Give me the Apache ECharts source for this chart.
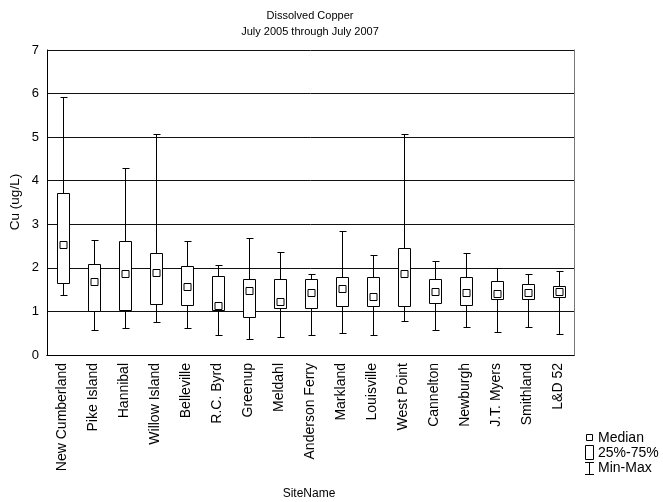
<!DOCTYPE html>
<html>
<head>
<meta charset="utf-8">
<script src="https://cdn.jsdelivr.net/npm/echarts@6/dist/echarts.min.js"></script>
<style>
html,body{margin:0;padding:0;background:#fff;}
#c{width:663px;height:502px;}
</style>
</head>
<body>
<div id="c"></div>
<script>
const sites = ["New Cumberland","Pike Island","Hannibal","Willow Island","Belleville","R.C. Byrd","Greenup","Meldahl","Anderson Ferry","Markland","Louisville","West Point","Cannelton","Newburgh","J.T. Myers","Smithland","L&D 52"];
const mins    = [1.38,0.57,0.62,0.75,0.63,0.46,0.37,0.42,0.47,0.50,0.46,0.79,0.58,0.64,0.53,0.64,0.48];
const q1s     = [1.65,1.02,1.03,1.16,1.14,1.03,0.87,1.09,1.09,1.13,1.12,1.13,1.19,1.14,1.28,1.29,1.33];
const medians = [2.53,1.68,1.87,1.89,1.57,1.13,1.49,1.22,1.44,1.53,1.35,1.87,1.46,1.44,1.42,1.44,1.46];
const q3s     = [3.71,2.09,2.61,2.33,2.05,1.81,1.74,1.74,1.74,1.80,1.80,2.46,1.74,1.80,1.70,1.64,1.58];
const maxs    = [5.91,2.64,4.30,5.08,2.62,2.07,2.68,2.36,1.86,2.85,2.29,5.08,2.15,2.35,2.00,1.86,1.92];
const yTicks  = [0,1,2,3,4,5,6,7];

const data = sites.map((s,i)=>[i,mins[i],q1s[i],medians[i],q3s[i],maxs[i]]);
const chart = echarts.init(document.getElementById('c'));
const FONT = 'Liberation Sans, Arial, sans-serif';
const R = v => Math.round(v)+0.5;

function renderItem(params, api){
  const i = api.value(0);
  const pMin = api.coord([i, api.value(1)]);
  const pQ1 = api.coord([i, api.value(2)]);
  const pMed = api.coord([i, api.value(3)]);
  const pQ3 = api.coord([i, api.value(4)]);
  const pMax = api.coord([i, api.value(5)]);
  const x = R(pMin[0]);
  const ls = {stroke:'#000', lineWidth:1, fill:null};
  const bw = 6, cw = 3, mw = 3.5;
  return {type:'group', children:[
    {type:'line', shape:{x1:x,y1:R(pMax[1]),x2:x,y2:R(pQ3[1])}, style:ls},
    {type:'line', shape:{x1:x-cw,y1:R(pMax[1]),x2:x+cw+1,y2:R(pMax[1])}, style:ls},
    {type:'line', shape:{x1:x,y1:R(pQ1[1]),x2:x,y2:R(pMin[1])}, style:ls},
    {type:'line', shape:{x1:x-cw,y1:R(pMin[1]),x2:x+cw+1,y2:R(pMin[1])}, style:ls},
    {type:'rect', shape:{x:x-bw,y:R(pQ3[1]),width:bw*2,height:Math.round(pQ1[1])-Math.round(pQ3[1])}, style:{stroke:'#000',lineWidth:1,fill:'#fff'}},
    {type:'rect', shape:{x:x-mw,y:Math.round(pMed[1]-mw)+0.5,width:mw*2,height:mw*2}, style:{stroke:'#000',lineWidth:1,fill:'#fff'}}
  ]};
}

chart.setOption({
  animation:false,
  backgroundColor:'#fff',
  textStyle:{fontFamily:FONT},
  grid:{left:47,right:89,top:50,bottom:147},
  xAxis:[{
    type:'category', data:sites, boundaryGap:true, position:'bottom',
    axisLine:{lineStyle:{color:'#000',width:1}},
    axisTick:{alignWithLabel:true,inside:true,length:3,lineStyle:{color:'#000'}},
    axisLabel:{rotate:90,fontSize:14,color:'#000',margin:8,interval:0,fontFamily:FONT},
    splitLine:{show:false}
  },{
    type:'category', data:sites, boundaryGap:true, position:'top',
    axisLine:{lineStyle:{color:'#000',width:1}},
    axisTick:{alignWithLabel:true,inside:true,length:3,lineStyle:{color:'#000'}},
    axisLabel:{show:false}, splitLine:{show:false}
  }],
  yAxis:[{
    type:'value', min:yTicks[0], max:yTicks[yTicks.length-1], interval:1, position:'left',
    axisLine:{show:true,lineStyle:{color:'#000',width:1}},
    axisTick:{show:false},
    axisLabel:{fontSize:13,color:'#000',margin:8,fontFamily:FONT},
    splitLine:{show:true,lineStyle:{color:'#111',width:1}}
  },{
    type:'value', min:0, max:7, interval:1, position:'right',
    axisLine:{show:true,lineStyle:{color:'#777',width:1}},
    axisTick:{show:false}, axisLabel:{show:false}, splitLine:{show:false}
  }],
  series:[{
    type:'custom', renderItem:renderItem, data:data,
    encode:{x:0,y:[1,2,3,4,5]}, z:10
  }],
  graphic:[
    {type:'text', x:310, y:16, style:{text:'Dissolved Copper',font:'11px '+FONT,fill:'#000',textAlign:'center',textVerticalAlign:'middle'}},
    {type:'text', x:310, y:32, style:{text:'July 2005 through July 2007',font:'11px '+FONT,fill:'#000',textAlign:'center',textVerticalAlign:'middle'}},
    {type:'text', x:15, y:202, rotation:Math.PI/2, style:{text:'Cu (ug/L)',font:'13.5px '+FONT,fill:'#000',textAlign:'center',textVerticalAlign:'middle'}},
    {type:'text', x:309, y:494, style:{text:'SiteName',font:'12px '+FONT,fill:'#000',textAlign:'center',textVerticalAlign:'middle'}},
    {type:'rect', shape:{x:586.5,y:434.5,width:6,height:6}, style:{stroke:'#000',fill:'#fff',lineWidth:1}},
    {type:'text', x:598, y:438, style:{text:'Median',font:'14px '+FONT,fill:'#000',textVerticalAlign:'middle'}},
    {type:'rect', shape:{x:585.5,y:445.5,width:8,height:14}, style:{stroke:'#000',fill:'#fff',lineWidth:1}},
    {type:'text', x:598, y:453, style:{text:'25%-75%',font:'14px '+FONT,fill:'#000',textVerticalAlign:'middle'}},
    {type:'line', shape:{x1:589.5,y1:462.5,x2:589.5,y2:474.5}, style:{stroke:'#000',lineWidth:1}},
    {type:'line', shape:{x1:585,y1:462.5,x2:594,y2:462.5}, style:{stroke:'#000',lineWidth:1}},
    {type:'line', shape:{x1:585,y1:474.5,x2:594,y2:474.5}, style:{stroke:'#000',lineWidth:1}},
    {type:'text', x:598, y:468, style:{text:'Min-Max',font:'14px '+FONT,fill:'#000',textVerticalAlign:'middle'}}
  ]
});
</script>
</body>
</html>
